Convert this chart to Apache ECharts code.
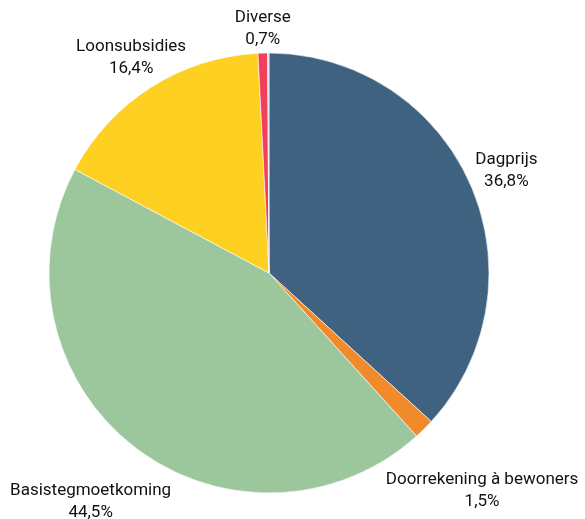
<!DOCTYPE html>
<html><head><meta charset="utf-8">
<script src="https://cdn.jsdelivr.net/npm/echarts@6/dist/echarts.min.js"></script>
<style>html,body{margin:0;padding:0;background:#fff}#c{width:585px;height:519px}</style>
</head><body><div id="c"></div>
<script>
var categories = ['Dagprijs', 'Doorrekening à bewoners', 'Basistegmoetkoming', 'Loonsubsidies', 'Diverse', 'Overige'];
var values = [36.8, 1.5, 44.5, 16.4, 0.7, 0.1];
var colors = ['#3f6281', '#f08a2a', '#9cc79c', '#fdd022', '#f0405a', '#d3d0ea'];
var showLabel = [true, true, true, true, true, false];
// label offsets from the slice's outer edge midpoint (layout, px)
var labelOffsets = [[36, -14], [58, 62], [-43, 55], [-20, -29], [0, -24]];

var CX = 269, CY = 273, R = 220;
var total = values.reduce(function (a, b) { return a + b; }, 0);
var mids = [];
var acc = 0;
values.forEach(function (v) { mids.push((acc + v / 2) / total * 2 * Math.PI); acc += v; });

var chart = echarts.init(document.getElementById('c'), null, {renderer: 'canvas'});
chart.setOption({
  animation: false,
  series: [{
    type: 'pie',
    center: [CX, CY],
    radius: [0, R],
    startAngle: 90,
    clockwise: true,
    avoidLabelOverlap: false,
    itemStyle: {borderColor: '#ffffff', borderWidth: 0.6},
    label: {
      show: true,
      position: 'outside',
      fontFamily: 'Roboto, "Liberation Sans", sans-serif',
      fontSize: 17,
      lineHeight: 22,
      color: '#111111',
      align: 'center',
      formatter: function (p) {
        return p.name + '\n' + p.value.toFixed(1).replace('.', ',') + '%';
      }
    },
    labelLine: {show: false},
    labelLayout: function (p) {
      var i = p.dataIndex;
      var a = mids[i];
      var off = labelOffsets[i] || [0, 0];
      return {
        x: CX + R * Math.sin(a) + off[0],
        y: CY - R * Math.cos(a) + off[1],
        align: 'center',
        verticalAlign: 'middle'
      };
    },
    data: categories.map(function (c, i) {
      return {name: c, value: values[i], itemStyle: {color: colors[i]}, label: {show: showLabel[i]}};
    })
  }]
});
</script></body></html>
